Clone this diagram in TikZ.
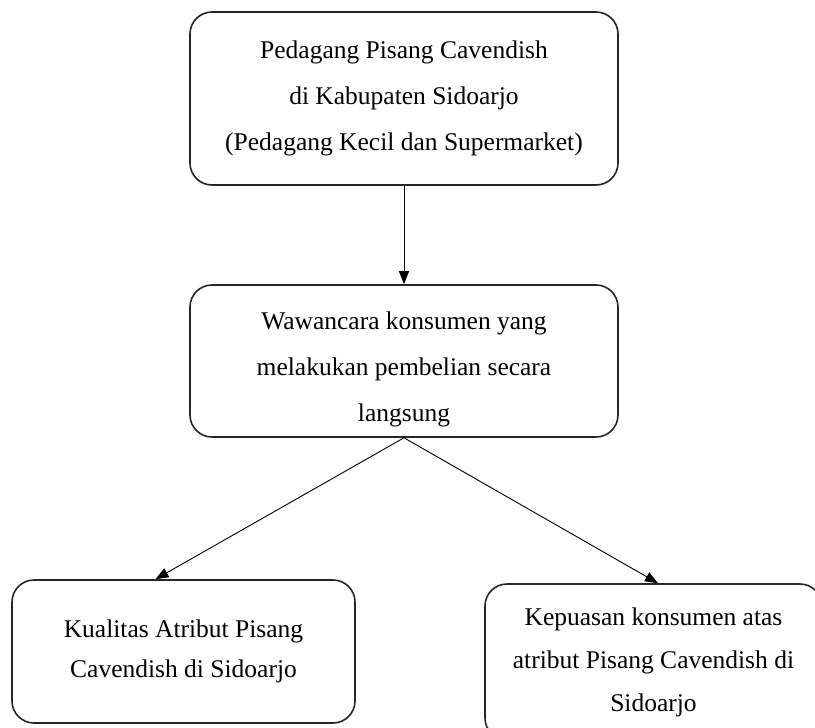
\documentclass[tikz,border=0pt]{standalone}
\usepackage{fontspec}
\setmainfont{Liberation Serif}
\usetikzlibrary{arrows.meta}
\begin{document}
\begin{tikzpicture}[x=1pt,y=-1pt,
  box/.style={draw=black!85,line width=1.6pt,rounded corners=22pt,align=center,
    font=\fontsize{25.5}{46}\selectfont,inner sep=0pt},
  txt/.style={align=center,font=\fontsize{25.5}{46}\selectfont,inner sep=0pt},
  conn/.style={line width=0.9pt,-{Triangle[length=13pt,width=10pt]}}]
\useasboundingbox (0,0) rectangle (815,728);
\node[box,minimum width=428pt,minimum height=173pt] (top) at (404,98.5)
  {Pedagang Pisang Cavendish\\di Kabupaten Sidoarjo\\(Pedagang Kecil dan Supermarket)};
\node[box,minimum width=428pt,minimum height=152pt] (mid) at (404,361) {};
\node[txt] (midtext) at ([yshift=-8pt]mid.center)
  {Wawancara konsumen yang\\melakukan pembelian secara\\langsung};
\node[box,minimum width=343pt,minimum height=143pt,font=\fontsize{25.5}{40}\selectfont] (bl) at (183.5,651.5)
  {Kualitas Atribut Pisang\\Cavendish di Sidoarjo};
\node[box,minimum width=337pt,minimum height=156pt,font=\fontsize{25.5}{43}\selectfont] (br) at (653.5,662)
  {Kepuasan konsumen atas\\atribut Pisang Cavendish di\\Sidoarjo};
\draw[conn] (top.south) -- (mid.north);
\draw[conn] (mid.south) -- ([xshift=-28pt]bl.north);
\draw[conn] (mid.south) -- ([xshift=4.5pt]br.north);
\end{tikzpicture}
\end{document}
